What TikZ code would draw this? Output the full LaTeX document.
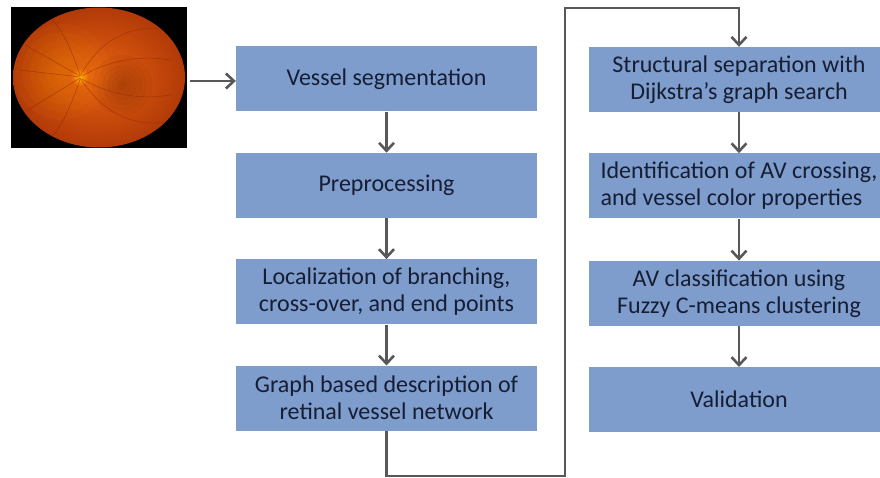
\documentclass[tikz,border=0pt]{standalone}
\usepackage{fontspec}
\setmainfont{Carlito}
\usetikzlibrary{positioning,arrows.meta}
\definecolor{boxblue}{RGB}{126,156,204}
\definecolor{textnavy}{RGB}{22,30,52}
\definecolor{flowgray}{RGB}{88,88,88}
\definecolor{retina}{RGB}{232,98,16}
\definecolor{retinadark}{RGB}{178,58,8}
\definecolor{vesselred}{RGB}{140,40,10}
\begin{document}
\begin{tikzpicture}[x=1pt, y=-1pt, >={Straight Barb[length=8pt,width=15pt]},
    stepbox/.style={fill=boxblue, text=textnavy, minimum width=301pt, minimum height=65pt,
        align=center, inner sep=2pt, font=\fontsize{24}{27}\selectfont},
    flow/.style={->, flowgray, line width=2.6pt, line join=miter},
    vessel/.style={vesselred, line width=0.5pt, opacity=0.6}]
    \useasboundingbox (0,0) rectangle (880,478);
    % fundus photograph
    \node (fundus) [fill=black, minimum width=176pt, minimum height=141pt, inner sep=0pt] at (99,77.5) {};
    \begin{scope}
        \clip (99,77.5) ellipse (86pt and 70pt);
        \shade[inner color=retina, outer color=retinadark] (99,77.5) ellipse (86pt and 70pt);
        \foreach \r in {8,16,...,48}
            \fill[orange!70!yellow, opacity=0.05] (62,72) circle (\r pt);
        \foreach \r in {5,10,...,30}
            \fill[retinadark!60!black, opacity=0.07] (122,85) circle (\r pt);
        \shade[inner color=orange!60!yellow, outer color=retina] (80,77) circle (9pt);
        \draw[vessel] (80,76) .. controls (100,40) and (130,22) .. (175,30);
        \draw[vessel] (80,78) .. controls (105,115) and (135,130) .. (180,120);
        \draw[vessel] (80,75) .. controls (70,45) and (60,25) .. (45,12);
        \draw[vessel] (80,79) .. controls (70,110) and (60,130) .. (45,145);
        \draw[vessel] (80,77) -- (20,70);
        \draw[vessel] (80,76) -- (25,45);
        \draw[vessel] (80,78) -- (28,110);
        \draw[vessel] (82,76) .. controls (110,60) and (140,55) .. (170,60);
        \draw[vessel] (82,79) .. controls (110,95) and (140,100) .. (170,95);
    \end{scope}
    % left column
    \node (l1) [stepbox] at (386.5,79) {Vessel segmentation};
    \node (l2) [stepbox, below=41pt of l1] {Preprocessing};
    \node (l3) [stepbox, below=41pt of l2] {Localization of branching,\\cross-over, and end points};
    \node (l4) [stepbox, below=41pt of l3] {Graph based description of\\retinal vessel network};
    % right column
    \node (r1) [stepbox] at (739,79.5) {Structural separation with\\Dijkstra’s graph search};
    \node (r2) [stepbox, below=41pt of r1, align=left] {Identification of AV crossing,\\and vessel color properties};
    \node (r3) [stepbox, below=42pt of r2] {AV classification using\\Fuzzy C-means clustering};
    \node (r4) [stepbox, below=41pt of r3] {Validation};
    \coordinate (low) at (565,476);
    \coordinate (high) at (565,8);
    % connectors
    \draw[flow] (fundus.east |- l1.west) ++(3,2) -- ([yshift=-2pt]l1.west);
    \draw[flow] (l1) -- (l2);
    \draw[flow] (l2) -- (l3);
    \draw[flow] (l3) -- (l4);
    \draw[flow] (l4.south) |- (low) -- (high) -| (r1.north);
    \draw[flow] (r1) -- (r2);
    \draw[flow] (r2) -- (r3);
    \draw[flow] (r3) -- (r4);
\end{tikzpicture}
\end{document}
